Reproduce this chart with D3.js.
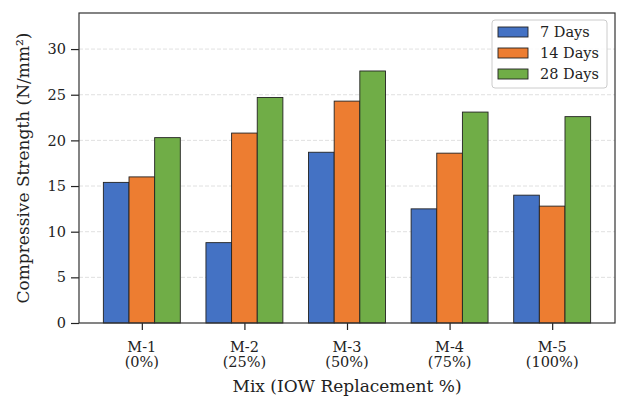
<!DOCTYPE html>
<html>
<head>
<meta charset="utf-8">
<script src="https://cdn.jsdelivr.net/npm/d3@7"></script>
<style>
  body { margin: 0; background: #fff; }
  text { font-family: "DejaVu Serif", serif; fill: #222; }
</style>
</head>
<body>
<svg></svg>
<script>
// Chart data
let mixes = ['M-1', 'M-2', 'M-3', 'M-4', 'M-5'];
let replacement = ['(0%)', '(25%)', '(50%)', '(75%)', '(100%)'];
let seriesNames = ['7 Days', '14 Days', '28 Days'];
let days7 = [15.4, 8.8, 18.7, 12.5, 14.0];
let days14 = [16.0, 20.8, 24.3, 18.6, 12.8];
let days28 = [20.3, 24.7, 27.6, 23.1, 22.6];
let yTicks = [0, 5, 10, 15, 20, 25, 30];

let colors = ['#4472C4', '#ED7D31', '#70AD47'];
let seriesValues = [days7, days14, days28];

// SVG dimensions
let width = 618, height = 396;
let plotLeft = 79, plotRight = 615, plotTop = 13, plotBottom = 323;

let svg = d3.select('svg').attr('width', width).attr('height', height);

// Scales: band positions like matplotlib (index -0.6125 .. 4.6125)
let xScale = d3.scaleLinear().domain([-0.6125, 4.6125]).range([plotLeft, plotRight]);
let yScale = d3.scaleLinear().domain([0, 33.95]).range([plotBottom, plotTop]);
let barW = xScale(0.25) - xScale(0);

// Grid lines
svg.append('g')
    .selectAll('line')
    .data(yTicks.slice(1))
    .enter()
    .append('line')
    .attr('x1', plotLeft).attr('x2', plotRight)
    .attr('y1', (d) => yScale(d)).attr('y2', (d) => yScale(d))
    .attr('stroke', '#d8d8d8')
    .attr('stroke-width', 0.8)
    .attr('stroke-dasharray', '4,2');

// Bars
seriesValues.forEach((vals, s) => {
    svg.append('g')
        .selectAll('rect')
        .data(vals)
        .enter()
        .append('rect')
        .attr('x', (d, i) => xScale(i + (s - 1) * 0.25 - 0.125))
        .attr('y', (d) => yScale(d))
        .attr('width', barW)
        .attr('height', (d) => yScale(0) - yScale(d))
        .attr('fill', colors[s])
        .attr('stroke', '#222')
        .attr('stroke-width', 0.9);
});

// Y axis
let yAxis = d3.axisLeft(yScale).tickValues(yTicks).tickSize(8).tickPadding(5);
let gy = svg.append('g').attr('transform', `translate(${plotLeft},0)`).call(yAxis);
gy.select('.domain').remove();
gy.selectAll('line').attr('stroke', '#222').attr('stroke-width', 1.2);
gy.selectAll('text').style('font-size', '14.5px').attr('fill', '#333');

// X axis
let xAxis = d3.axisBottom(xScale).tickValues([0, 1, 2, 3, 4]).tickSize(7).tickFormat('');
let gx = svg.append('g').attr('transform', `translate(0,${plotBottom})`).call(xAxis);
gx.select('.domain').remove();
gx.selectAll('line').attr('stroke', '#222').attr('stroke-width', 1.2);

let xLabels = svg.append('g')
    .selectAll('text')
    .data(mixes)
    .enter()
    .append('text')
    .attr('text-anchor', 'middle')
    .attr('x', (d, i) => xScale(i))
    .attr('y', 352)
    .style('font-size', '14.5px')
    .attr('fill', '#333');
xLabels.append('tspan').attr('x', (d, i) => xScale(i)).text((d) => d);
xLabels.append('tspan').attr('x', (d, i) => xScale(i)).attr('dy', 15).text((d, i) => replacement[i]);

// Frame
svg.append('rect')
    .attr('x', plotLeft).attr('y', plotTop)
    .attr('width', plotRight - plotLeft).attr('height', plotBottom - plotTop)
    .attr('fill', 'none')
    .attr('stroke', '#333')
    .attr('stroke-width', 1.2);

// Axis titles
svg.append('text')
    .attr('x', (plotLeft + plotRight) / 2)
    .attr('y', 392)
    .attr('text-anchor', 'middle')
    .style('font-size', '17px')
    .attr('fill', '#333')
    .text('Mix (IOW Replacement %)');

svg.append('text')
    .attr('transform', `translate(29,${(plotTop + plotBottom) / 2}) rotate(-90)`)
    .attr('text-anchor', 'middle')
    .style('font-size', '17px')
    .attr('fill', '#333')
    .text('Compressive Strength (N/mm²)');

// Legend
let legend = svg.append('g');
legend.append('rect')
    .attr('x', 492).attr('y', 20)
    .attr('width', 115).attr('height', 68)
    .attr('rx', 3)
    .attr('fill', '#fff')
    .attr('fill-opacity', 0.85)
    .attr('stroke', '#ccc');

seriesNames.forEach((name, i) => {
    let yy = 32 + i * 21;
    legend.append('rect')
        .attr('x', 498).attr('y', yy - 5)
        .attr('width', 30).attr('height', 10)
        .attr('fill', colors[i])
        .attr('stroke', '#222')
        .attr('stroke-width', 0.9);
    legend.append('text')
        .attr('x', 540).attr('y', yy + 5)
        .style('font-size', '14.5px')
        .attr('fill', '#333')
        .text(name);
});
</script>
</body>
</html>
